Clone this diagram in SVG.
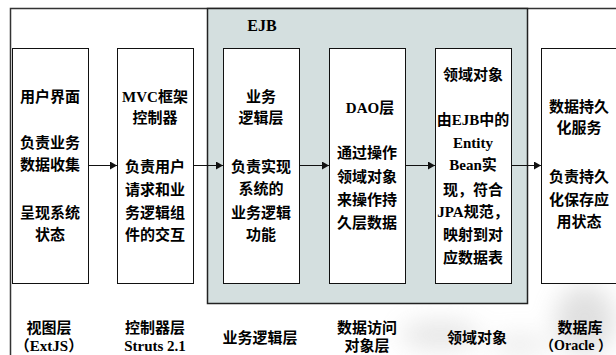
<svg xmlns="http://www.w3.org/2000/svg" width="616" height="355" viewBox="0 0 616 355">
  <defs>
    <style>
      .t { font-family: "Liberation Serif", "Noto Sans CJK SC", serif; font-weight: bold; font-size: 15px; fill: #000; text-anchor: middle; dominant-baseline: central; }
      .box { fill: #fff; stroke: #111; stroke-width: 1; }
      .conn { stroke: #111; stroke-width: 1; fill: none; marker-end: url(#arr); }
    </style>
    <marker id="arr" markerWidth="8" markerHeight="8" refX="7" refY="4" orient="auto" markerUnits="userSpaceOnUse">
      <path d="M0,0 L7,4 L0,8 Z" fill="#111"/>
    </marker>
    <filter id="blur" x="-50%" y="-50%" width="200%" height="200%">
      <feGaussianBlur stdDeviation="12"/>
    </filter>
  </defs>

  <rect width="616" height="355" fill="#fff"/>
  <g id="watermark" filter="url(#blur)" opacity="0.3">
    <ellipse cx="585" cy="320" rx="30" ry="35" fill="#999"/>
    <ellipse cx="440" cy="335" rx="40" ry="14" fill="#aaa"/>
    <ellipse cx="520" cy="345" rx="30" ry="10" fill="#bbb"/>
  </g>

  <g id="frame">
    <path d="M10.5,355 L10.5,8.5 L616,8.5" fill="none" stroke="#333" stroke-width="1.5"/>
  </g>

  <g id="ejb">
    <rect x="207.5" y="8.5" width="320" height="295" fill="#d4dfdf" stroke="#222" stroke-width="1.5"/>
    <text class="t" x="262" y="25" style="font-size:16px">EJB</text>
  </g>

  <g id="view">
    <rect class="box" x="12.5" y="48.5" width="76" height="235"/>
    <text class="t" x="50" y="97">用户界面</text>
    <text class="t" x="50" y="143">负责业务</text>
    <text class="t" x="50" y="165">数据收集</text>
    <text class="t" x="50" y="213">呈现系统</text>
    <text class="t" x="50" y="235">状态</text>
  </g>

  <g id="controller">
    <rect class="box" x="117.5" y="48.5" width="76" height="235"/>
    <text class="t" x="155" y="97">MVC框架</text>
    <text class="t" x="155" y="118">控制器</text>
    <text class="t" x="155" y="167">负责用户</text>
    <text class="t" x="155" y="190">请求和业</text>
    <text class="t" x="155" y="213">务逻辑组</text>
    <text class="t" x="155" y="235">件的交互</text>
  </g>

  <g id="business">
    <rect class="box" x="223.5" y="48.5" width="76" height="235"/>
    <text class="t" x="261" y="97">业务</text>
    <text class="t" x="261" y="118">逻辑层</text>
    <text class="t" x="261" y="167">负责实现</text>
    <text class="t" x="261" y="189">系统的</text>
    <text class="t" x="261" y="213">业务逻辑</text>
    <text class="t" x="261" y="235">功能</text>
  </g>

  <g id="dao">
    <rect class="box" x="329.5" y="48.5" width="76" height="235"/>
    <text class="t" x="370" y="108">DAO层</text>
    <text class="t" x="367" y="153">通过操作</text>
    <text class="t" x="367" y="177">领域对象</text>
    <text class="t" x="367" y="200">来操作持</text>
    <text class="t" x="367" y="223">久层数据</text>
  </g>

  <g id="domain">
    <rect class="box" x="435.5" y="48.5" width="76" height="235"/>
    <text class="t" x="473" y="75">领域对象</text>
    <text class="t" x="473" y="120">由EJB中的</text>
    <text class="t" x="473" y="143">Entity</text>
    <text class="t" x="473" y="165">Bean实</text>
    <text class="t" x="473" y="190">现，符合</text>
    <text class="t" x="473" y="212">JPA规范，</text>
    <text class="t" x="473" y="235">映射到对</text>
    <text class="t" x="473" y="258">应数据表</text>
  </g>

  <g id="database">
    <rect class="box" x="541.5" y="48.5" width="76" height="235"/>
    <text class="t" x="579" y="107">数据持久</text>
    <text class="t" x="579" y="128">化服务</text>
    <text class="t" x="579" y="177">负责持久</text>
    <text class="t" x="579" y="200">化保存应</text>
    <text class="t" x="579" y="222">用状态</text>
  </g>

  <g id="connectors">
    <line class="conn" x1="89" y1="165.5" x2="117" y2="165.5"/>
    <line class="conn" x1="194" y1="165.5" x2="223" y2="165.5"/>
    <line class="conn" x1="300" y1="165.5" x2="329" y2="165.5"/>
    <line class="conn" x1="406" y1="165.5" x2="435" y2="165.5"/>
    <line class="conn" x1="512" y1="165.5" x2="541" y2="165.5"/>
  </g>

  <g id="labels">
    <text class="t" x="49" y="328">视图层</text>
    <text class="t" x="49" y="346">（ExtJS）</text>
    <text class="t" x="155" y="328">控制器层</text>
    <text class="t" x="155" y="346">Struts 2.1</text>
    <text class="t" x="260" y="338">业务逻辑层</text>
    <text class="t" x="367" y="328">数据访问</text>
    <text class="t" x="367" y="346">对象层</text>
    <text class="t" x="477" y="338">领域对象</text>
    <text class="t" x="580" y="328">数据库</text>
    <text class="t" x="576" y="345" style="font-size:14px">（Oracle ）</text>
  </g>
</svg>
